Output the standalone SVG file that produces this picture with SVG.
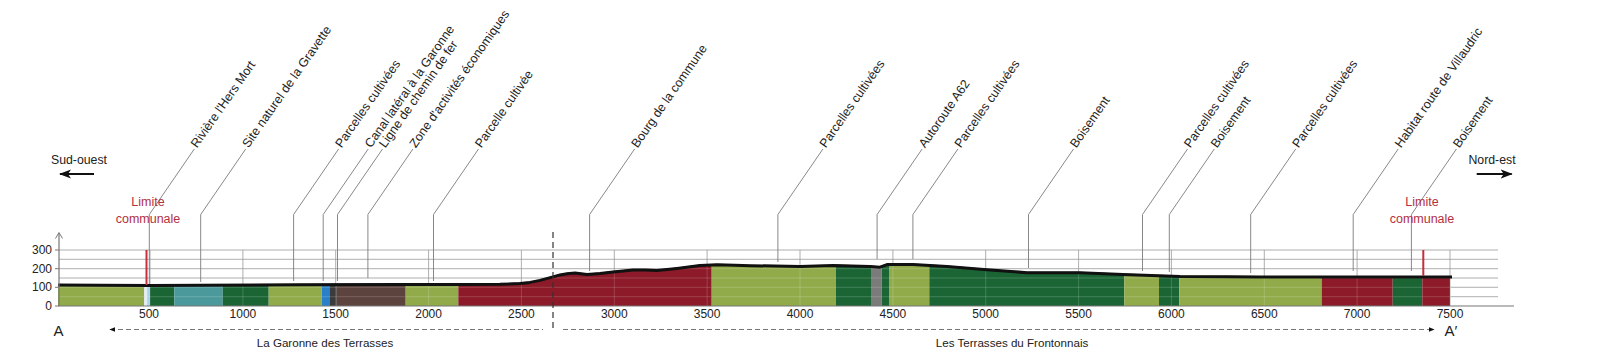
<svg xmlns="http://www.w3.org/2000/svg" width="1600" height="362" viewBox="0 0 1600 362">
<style>
text{font-family:"Liberation Sans",Arial,sans-serif;fill:#222}
.lbl{font-size:12.5px}
.tick{font-size:12px;text-anchor:middle}
.ytick{font-size:12px;text-anchor:end}
.red{fill:#b3303e;font-size:12.5px;text-anchor:middle}
.grid{stroke:#9a9a9a;stroke-width:0.8;fill:none}
.gridover{stroke:#ffffff;stroke-opacity:0.22;stroke-width:0.8;fill:none}
.lead{stroke:#7a7a7a;stroke-width:0.9;fill:none}
.dash{stroke:#777;stroke-width:1;stroke-dasharray:5 3;fill:none}
.lg{fill:#91ab4b}.dg{fill:#1b6535}.rd{fill:#8c1a28}
</style>
<defs>
<clipPath id="terrain">
<polygon points="58,284 100,284.2 150,284.6 200,284.2 300,283.8 400,283.6 460,283.4 500,283.2 520,282.6 530,281.4 540,279.4 553,275.9 560,273.9 567,272.7 575,271.9 587,273.4 600,272.4 613,270.9 633,268.9 645,269.1 657,269.6 677,267.4 700,264.6 717,263.7 735,264.2 750,264.7 800,265.4 833,264.6 870,265.4 880,266.2 887,263.6 913,263.4 947,265.4 987,268.7 1027,271.7 1080,271.7 1123,273.4 1180,275.4 1227,275.7 1260,276.1 1452,276.1 1452,306 58,306"/>
</clipPath>
<marker id="ah" viewBox="0 0 10 10" refX="9" refY="5" markerWidth="6" markerHeight="6" orient="auto-start-reverse" markerUnits="userSpaceOnUse">
<path d="M0,1 L10,5 L0,9 z" fill="#111"/>
</marker>
<marker id="bigah" viewBox="0 0 12 10" refX="11" refY="5" markerWidth="12" markerHeight="10" orient="auto-start-reverse" markerUnits="userSpaceOnUse">
<path d="M0,0.5 L12,5 L0,9.5 L3,5 z" fill="#111"/>
</marker>
</defs>

<g id="grid">
<path class="grid" d="M59,250H1498M59,259.3H1498M59,268.7H1498M59,278H1498M59,287.3H1498M59,296.7H1498"/>
<path class="grid" d="M150,250V306M242.9,250V306M335.7,250V306M428.6,250V306M521.4,250V306M614.3,250V306M707.1,250V306M800,250V306M892.9,250V306M985.7,250V306M1078.6,250V306M1171.4,250V306M1264.3,250V306M1357.1,250V306M1450,250V306"/>
</g>

<g id="band" clip-path="url(#terrain)">
<rect class="lg" x="58" y="250" width="86.3" height="56"/>
<rect x="144.3" y="250" width="5.7" height="56" fill="#e4ecf2"/>
<rect x="147.3" y="250" width="2.7" height="56" fill="#a9d0ee"/>
<rect class="dg" x="150" y="250" width="24.3" height="56"/>
<rect x="174.3" y="250" width="48.4" height="56" fill="#4b999b"/>
<rect class="dg" x="222.7" y="250" width="46" height="56"/>
<rect class="lg" x="268.7" y="250" width="53" height="56"/>
<rect x="321.7" y="250" width="8.3" height="56" fill="#2980c9"/>
<rect x="330" y="250" width="6.7" height="56" fill="#3b3b3b"/>
<rect x="336.7" y="250" width="69" height="56" fill="#5d433e"/>
<rect class="lg" x="405.7" y="250" width="52.6" height="56"/>
<rect class="rd" x="458.3" y="250" width="253.4" height="56"/>
<rect class="lg" x="711.7" y="250" width="124.3" height="56"/>
<rect class="dg" x="836" y="250" width="35" height="56"/>
<rect x="871" y="250" width="10.7" height="56" fill="#7b7b7b"/>
<rect class="dg" x="881.7" y="250" width="7.3" height="56"/>
<rect class="lg" x="889" y="250" width="40.3" height="56"/>
<rect class="dg" x="929.3" y="250" width="195" height="56"/>
<rect class="lg" x="1124.3" y="250" width="34.7" height="56"/>
<rect class="dg" x="1159" y="250" width="20.3" height="56"/>
<rect class="lg" x="1179.3" y="250" width="142.4" height="56"/>
<rect class="rd" x="1321.7" y="250" width="71" height="56"/>
<rect class="dg" x="1392.7" y="250" width="29.6" height="56"/>
<rect class="rd" x="1422.3" y="250" width="27.7" height="56"/>
<g>
<path class="gridover" d="M59,259.3H1498M59,268.7H1498M59,278H1498M59,287.3H1498M59,296.7H1498"/>
<path class="gridover" d="M150,250V306M242.9,250V306M335.7,250V306M428.6,250V306M521.4,250V306M614.3,250V306M707.1,250V306M800,250V306M892.9,250V306M985.7,250V306M1078.6,250V306M1171.4,250V306M1264.3,250V306M1357.1,250V306M1450,250V306"/>
</g>
</g>

<g id="profile">
<polyline fill="none" stroke="#111" stroke-width="3" stroke-linejoin="round" points="58,285 100,285.2 150,285.6 200,285.2 300,284.8 400,284.6 460,284.4 500,284.2 520,283.6 530,282.4 540,280.4 553,276.9 560,274.9 567,273.7 575,272.9 587,274.4 600,273.4 613,271.9 633,269.9 645,270.1 657,270.6 677,268.4 700,265.6 717,264.7 735,265.2 750,265.7 800,266.4 833,265.6 870,266.4 880,267.2 887,264.6 913,264.4 947,266.4 987,269.7 1027,272.7 1080,272.7 1123,274.4 1180,276.4 1227,276.7 1260,277.1 1452,277.1"/>
</g>

<g id="axes">
<path d="M59,233V306H1514" fill="none" stroke="#777" stroke-width="1.2"/>
<path d="M55.5,238.5L59,232.5L62.5,238.5" fill="none" stroke="#777" stroke-width="1"/>
<path d="M55,250H59M55,268.7H59M55,287.3H59M55,306H59" stroke="#777" stroke-width="1"/>
<text class="ytick" x="52" y="254">300</text>
<text class="ytick" x="52" y="272.5">200</text>
<text class="ytick" x="52" y="291">100</text>
<text class="ytick" x="52" y="310">0</text>
<text class="tick" x="149" y="318">500</text>
<text class="tick" x="242.9" y="318">1000</text>
<text class="tick" x="335.7" y="318">1500</text>
<text class="tick" x="428.6" y="318">2000</text>
<text class="tick" x="521.4" y="318">2500</text>
<text class="tick" x="614.3" y="318">3000</text>
<text class="tick" x="707.1" y="318">3500</text>
<text class="tick" x="800" y="318">4000</text>
<text class="tick" x="892.9" y="318">4500</text>
<text class="tick" x="985.7" y="318">5000</text>
<text class="tick" x="1078.6" y="318">5500</text>
<text class="tick" x="1171.4" y="318">6000</text>
<text class="tick" x="1264.3" y="318">6500</text>
<text class="tick" x="1357.1" y="318">7000</text>
<text class="tick" x="1450" y="318">7500</text>
</g>

<g id="limits">
<path d="M146.5,250V285M1423.3,250V276" stroke="#c3303c" stroke-width="2"/>
</g>

<g id="connectors">
<polyline class="lead" points="149.3,284 149.3,214.5 194.3,149"/>
<polyline class="lead" points="200.7,282 200.7,214.5 245.7,149"/>
<polyline class="lead" points="293.6,281 293.6,214.5 338.6,149"/>
<polyline class="lead" points="323.2,281 323.2,214.5 368.2,149"/>
<polyline class="lead" points="337.5,281 337.5,214.5 382.5,149"/>
<polyline class="lead" points="367.9,278 367.9,214.5 412.9,149"/>
<polyline class="lead" points="433.5,281 433.5,214.5 478.5,149"/>
<polyline class="lead" points="589.6,271 589.6,214.5 634.6,149"/>
<polyline class="lead" points="777.9,262 777.9,214.5 822.9,149"/>
<polyline class="lead" points="877.1,259 877.1,214.5 922.1,149"/>
<polyline class="lead" points="912.9,259 912.9,214.5 957.9,149"/>
<polyline class="lead" points="1028.5,268 1028.5,214.5 1073.5,149"/>
<polyline class="lead" points="1142.5,271 1142.5,214.5 1187.5,149"/>
<polyline class="lead" points="1169.3,272 1169.3,214.5 1214.3,149"/>
<polyline class="lead" points="1250.7,273 1250.7,214.5 1295.7,149"/>
<polyline class="lead" points="1353.2,271 1353.2,214.5 1398.2,149"/>
<polyline class="lead" points="1411.4,271 1411.4,214.5 1456.4,149"/>
<path class="dash" d="M110,329.5H543" marker-start="url(#ah)"/>
<path class="dash" d="M563,329.5H1434" marker-end="url(#ah)"/>
<path d="M553,232V332" stroke="#333" stroke-width="1.2" stroke-dasharray="6 4"/>
<path d="M94,174H60" stroke="#111" stroke-width="2" marker-end="url(#bigah)"/>
<path d="M1476.7,174H1511.7" stroke="#111" stroke-width="2" marker-end="url(#bigah)"/>
</g>

<g id="label-riviere"><text class="lbl" transform="translate(194.3,149) rotate(-55)" x="2" y="2">Rivière l'Hers Mort</text></g>
<g id="label-site"><text class="lbl" transform="translate(245.7,149) rotate(-55)" x="2" y="2">Site naturel de la Gravette</text></g>
<g id="label-parcelles1"><text class="lbl" transform="translate(338.6,149) rotate(-55)" x="2" y="2">Parcelles cultivées</text></g>
<g id="label-canal"><text class="lbl" transform="translate(368.2,149) rotate(-55)" x="2" y="2">Canal latéral à la Garonne</text></g>
<g id="label-ligne"><text class="lbl" transform="translate(382.5,149) rotate(-55)" x="2" y="2">Ligne de chemin de fer</text></g>
<g id="label-zone"><text class="lbl" transform="translate(412.9,149) rotate(-55)" x="2" y="2">Zone d'activités économiques</text></g>
<g id="label-parcelle"><text class="lbl" transform="translate(478.5,149) rotate(-55)" x="2" y="2">Parcelle cultivée</text></g>
<g id="label-bourg"><text class="lbl" transform="translate(634.6,149) rotate(-55)" x="2" y="2">Bourg de la commune</text></g>
<g id="label-parcelles2"><text class="lbl" transform="translate(822.9,149) rotate(-55)" x="2" y="2">Parcelles cultivées</text></g>
<g id="label-autoroute"><text class="lbl" transform="translate(922.1,149) rotate(-55)" x="2" y="2">Autoroute A62</text></g>
<g id="label-parcelles3"><text class="lbl" transform="translate(957.9,149) rotate(-55)" x="2" y="2">Parcelles cultivées</text></g>
<g id="label-boisement1"><text class="lbl" transform="translate(1073.5,149) rotate(-55)" x="2" y="2">Boisement</text></g>
<g id="label-parcelles4"><text class="lbl" transform="translate(1187.5,149) rotate(-55)" x="2" y="2">Parcelles cultivées</text></g>
<g id="label-boisement2"><text class="lbl" transform="translate(1214.3,149) rotate(-55)" x="2" y="2">Boisement</text></g>
<g id="label-parcelles5"><text class="lbl" transform="translate(1295.7,149) rotate(-55)" x="2" y="2">Parcelles cultivées</text></g>
<g id="label-habitat"><text class="lbl" transform="translate(1398.2,149) rotate(-55)" x="2" y="2">Habitat route de Villaudric</text></g>
<g id="label-boisement3"><text class="lbl" transform="translate(1456.4,149) rotate(-55)" x="2" y="2">Boisement</text></g>

<g id="limite-gauche"><text class="red" x="148" y="206">Limite</text><text class="red" x="148" y="222.5">communale</text></g>
<g id="limite-droite"><text class="red" x="1422" y="206">Limite</text><text class="red" x="1422" y="222.5">communale</text></g>
<g id="sud-ouest"><text x="79" y="164" font-size="12.3" text-anchor="middle">Sud-ouest</text></g>
<g id="nord-est"><text x="1492" y="164" font-size="12.3" text-anchor="middle">Nord-est</text></g>
<g id="point-a"><text x="58.5" y="336" font-size="15" text-anchor="middle">A</text></g>
<g id="point-a2"><text x="1451" y="336" font-size="15" text-anchor="middle">A′</text></g>
<g id="garonne"><text x="325" y="347" font-size="11.6" text-anchor="middle">La Garonne des Terrasses</text></g>
<g id="frontonnais"><text x="1012" y="347" font-size="11.6" text-anchor="middle">Les Terrasses du Frontonnais</text></g>
</svg>
